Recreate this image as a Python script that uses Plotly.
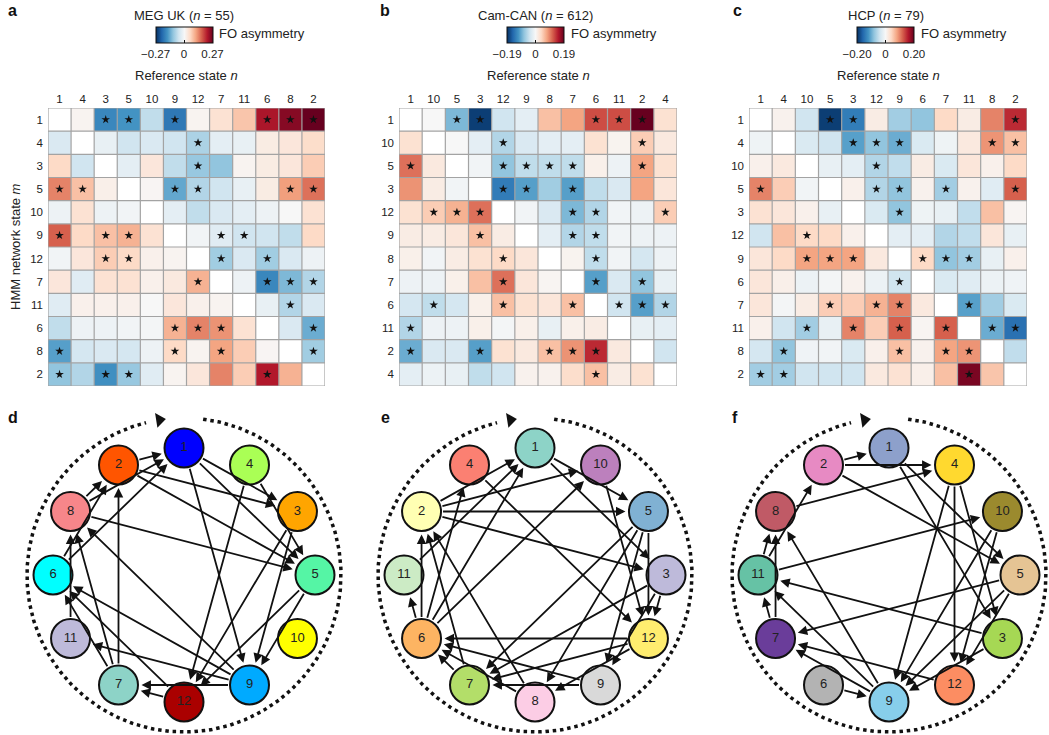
import math
import plotly.graph_objects as go

W, H = 1049, 735
N = None

# ---------------- data ----------------
ORDER_A = [1, 4, 3, 5, 10, 9, 12, 7, 11, 6, 8, 2]
FO_A = [
    [N, 0.008, -0.176, -0.162, -0.068, -0.194, 0.008, 0.041, 0.076, 0.221, 0.248, 0.27],
    [-0.041, N, -0.022, -0.054, -0.041, -0.054, -0.086, -0.027, -0.022, 0.022, 0.032, 0.049],
    [0.054, -0.054, N, -0.027, 0.032, -0.068, -0.103, -0.108, 0.008, 0.022, 0.032, 0.068],
    [0.135, 0.081, 0.016, N, 0.005, -0.14, -0.081, -0.054, -0.022, 0.022, 0.113, 0.149],
    [-0.014, 0.041, -0.014, -0.008, N, -0.027, -0.068, -0.041, -0.027, -0.014, 0.0, 0.041],
    [0.162, 0.054, 0.081, 0.095, 0.041, N, -0.008, -0.032, -0.054, -0.054, -0.068, 0.054],
    [-0.008, 0.032, 0.068, 0.054, 0.014, 0.008, N, -0.095, -0.041, -0.095, -0.041, -0.014],
    [0.032, -0.032, 0.041, 0.041, 0.014, 0.027, 0.095, N, -0.014, -0.176, -0.122, -0.081],
    [-0.032, 0.014, 0.014, 0.014, 0.0, 0.032, 0.014, 0.008, N, -0.022, -0.081, -0.041],
    [-0.068, -0.014, -0.014, -0.008, -0.005, 0.095, 0.135, 0.122, 0.041, N, -0.041, -0.135],
    [-0.149, -0.049, -0.041, -0.049, -0.014, 0.054, 0.008, 0.108, 0.068, 0.005, N, -0.095],
    [-0.108, -0.081, -0.167, -0.103, -0.032, 0.008, 0.032, 0.135, 0.068, 0.216, 0.095, N],
]
STAR_A = [
    [0, 0, 1, 1, 0, 1, 0, 0, 0, 1, 1, 1],
    [0, 0, 0, 0, 0, 0, 1, 0, 0, 0, 0, 0],
    [0, 0, 0, 0, 0, 0, 1, 0, 0, 0, 0, 0],
    [1, 1, 0, 0, 0, 1, 1, 0, 0, 0, 1, 1],
    [0, 0, 0, 0, 0, 0, 0, 0, 0, 0, 0, 0],
    [1, 0, 1, 1, 0, 0, 0, 1, 1, 0, 0, 0],
    [0, 0, 1, 1, 0, 0, 0, 1, 0, 1, 0, 0],
    [0, 0, 0, 0, 0, 0, 1, 0, 0, 1, 1, 1],
    [0, 0, 0, 0, 0, 0, 0, 0, 0, 0, 1, 0],
    [0, 0, 0, 0, 0, 1, 1, 1, 0, 0, 0, 1],
    [1, 0, 0, 0, 0, 1, 0, 1, 0, 0, 0, 1],
    [1, 0, 1, 1, 0, 0, 0, 0, 0, 1, 0, 0],
]
COLORS_A = {1: '#0000ff', 2: '#ff5500', 3: '#ffa500', 4: '#aaff55', 5: '#55f5a5',
            6: '#00ffff', 7: '#8dd3c7', 8: '#f7868a', 9: '#00aaff', 10: '#ffff00',
            11: '#bebada', 12: '#aa0000'}

ORDER_B = [1, 10, 5, 3, 12, 9, 8, 7, 6, 11, 2, 4]
FO_B = [
    [N, 0.0, -0.086, -0.18, -0.038, -0.019, 0.057, 0.076, 0.124, 0.124, 0.19, 0.029],
    [0.029, N, 0.0, -0.019, -0.057, -0.029, -0.019, -0.019, 0.029, 0.006, 0.048, 0.019],
    [0.105, 0.019, N, -0.006, -0.076, -0.048, -0.048, -0.048, 0.01, -0.01, 0.076, 0.029],
    [0.086, 0.015, -0.006, N, -0.133, -0.105, -0.067, -0.105, -0.048, -0.029, 0.076, 0.023],
    [0.029, 0.048, 0.067, 0.105, N, -0.006, -0.029, -0.086, -0.057, -0.006, -0.01, 0.048],
    [0.015, 0.015, 0.023, 0.057, 0.015, N, -0.019, -0.057, -0.048, -0.006, -0.01, -0.01],
    [0.01, -0.006, 0.015, 0.029, 0.038, 0.023, N, 0.006, -0.048, -0.006, -0.034, -0.01],
    [-0.01, -0.01, 0.01, 0.057, 0.105, 0.023, 0.004, N, -0.105, -0.029, -0.076, -0.015],
    [-0.034, -0.048, -0.034, 0.01, 0.057, 0.029, 0.023, 0.057, N, -0.038, -0.105, -0.057],
    [-0.057, -0.01, -0.01, 0.01, -0.004, 0.01, -0.015, 0.01, 0.015, N, -0.015, -0.019],
    [-0.095, -0.029, -0.029, -0.105, 0.029, 0.019, 0.057, 0.086, 0.143, 0.019, N, -0.038],
    [-0.019, -0.011, -0.015, -0.048, -0.038, 0.008, 0.008, 0.034, 0.057, 0.015, 0.029, N],
]
STAR_B = [
    [0, 0, 1, 1, 0, 0, 0, 0, 1, 1, 1, 0],
    [0, 0, 0, 0, 1, 0, 0, 0, 0, 0, 1, 0],
    [1, 0, 0, 0, 1, 1, 1, 1, 0, 0, 1, 0],
    [0, 0, 0, 0, 1, 1, 0, 1, 0, 0, 0, 0],
    [0, 1, 1, 1, 0, 0, 0, 1, 1, 0, 0, 1],
    [0, 0, 0, 1, 0, 0, 0, 1, 1, 0, 0, 0],
    [0, 0, 0, 0, 1, 0, 0, 0, 1, 0, 0, 0],
    [0, 0, 0, 0, 1, 0, 0, 0, 1, 0, 1, 0],
    [0, 1, 0, 0, 1, 0, 0, 1, 0, 1, 1, 1],
    [1, 0, 0, 0, 0, 0, 0, 0, 0, 0, 0, 0],
    [1, 0, 0, 1, 0, 0, 1, 1, 1, 0, 0, 0],
    [0, 0, 0, 0, 0, 0, 0, 0, 1, 0, 0, 0],
]
COLORS_B = {1: '#8dd3c7', 2: '#ffffb3', 3: '#bebada', 4: '#fb8072', 5: '#80b1d3',
            6: '#fdb462', 7: '#b3de69', 8: '#fccde5', 9: '#d9d9d9', 10: '#bc80bd',
            11: '#ccebc5', 12: '#ffed6f'}

ORDER_C = [1, 4, 10, 5, 3, 12, 9, 6, 7, 11, 8, 2]
FO_C = [
    [N, 0.008, -0.04, -0.19, -0.14, 0.016, -0.07, -0.08, 0.04, 0.016, 0.1, 0.15],
    [-0.01, N, -0.03, -0.04, -0.11, -0.08, -0.1, -0.03, -0.01, 0.02, 0.09, 0.06],
    [0.01, 0.02, N, -0.016, -0.02, -0.06, -0.05, 0.016, -0.03, 0.024, 0.01, 0.04],
    [0.1, 0.05, -0.006, N, 0.01, -0.06, -0.08, 0.008, -0.07, 0.008, -0.024, 0.12],
    [0.03, 0.024, 0.01, -0.016, N, -0.03, -0.08, -0.01, -0.016, -0.05, 0.06, 0.004],
    [-0.04, 0.06, 0.04, 0.04, 0.01, N, -0.02, -0.02, -0.06, -0.05, 0.024, -0.016],
    [0.024, 0.04, 0.08, 0.08, 0.08, 0.02, N, 0.04, -0.08, -0.07, -0.016, 0.01],
    [0.024, 0.012, -0.012, -0.004, 0.008, -0.012, -0.04, N, -0.03, -0.024, -0.012, -0.008],
    [0.024, -0.004, 0.016, 0.05, 0.05, 0.07, 0.1, 0.02, N, -0.11, -0.07, -0.03],
    [0.01, -0.04, -0.07, -0.016, 0.1, 0.05, 0.12, 0.004, 0.12, N, -0.1, -0.15],
    [-0.036, -0.08, -0.008, -0.006, -0.03, 0.01, 0.06, 0.008, 0.08, 0.09, N, -0.05],
    [-0.07, -0.07, -0.04, -0.04, -0.04, 0.02, 0.03, 0.012, 0.06, 0.19, 0.056, N],
]
STAR_C = [
    [0, 0, 0, 1, 1, 0, 0, 0, 0, 0, 0, 1],
    [0, 0, 0, 0, 1, 1, 1, 0, 0, 0, 1, 1],
    [0, 0, 0, 0, 0, 1, 0, 0, 0, 0, 0, 0],
    [1, 0, 0, 0, 0, 1, 1, 0, 1, 0, 0, 1],
    [0, 0, 0, 0, 0, 0, 1, 0, 0, 0, 0, 0],
    [0, 0, 1, 0, 0, 0, 0, 0, 0, 0, 0, 0],
    [0, 0, 1, 1, 1, 0, 0, 1, 1, 1, 0, 0],
    [0, 0, 0, 0, 0, 0, 1, 0, 0, 0, 0, 0],
    [0, 0, 0, 1, 0, 1, 1, 0, 0, 1, 0, 0],
    [0, 0, 1, 0, 1, 0, 1, 0, 1, 0, 1, 1],
    [0, 1, 0, 0, 0, 0, 1, 0, 1, 1, 0, 0],
    [1, 1, 0, 0, 0, 0, 0, 0, 0, 1, 0, 0],
]
COLORS_C = {1: '#8da0cb', 2: '#e78ac3', 3: '#a6d854', 4: '#ffd92f', 5: '#e5c494',
            6: '#b3b3b3', 7: '#6a3d9a', 8: '#c05a66', 9: '#87ceeb', 10: '#9b8a2e',
            11: '#66c2a5', 12: '#fc8d62'}

TITLES = ['MEG UK (<i>n</i> = 55)', 'Cam-CAN (<i>n</i> = 612)', 'HCP (<i>n</i> = 79)']
VMAX = [0.27, 0.19, 0.20]
CB_LABELS = [['\u22120.27', '0', '0.27'], ['\u22120.19', '0', '0.19'], ['\u22120.20', '0', '0.20']]

# ---------------- style ----------------
FONT = 'Liberation Sans, Arial, sans-serif'
TXT = '#222222'
RDBU_R = [[0.0, '#053061'], [0.1, '#2166ac'], [0.2, '#4393c3'], [0.3, '#92c5de'],
          [0.4, '#d1e5f0'], [0.5, '#f7f7f7'], [0.6, '#fddbc7'], [0.7, '#f4a582'],
          [0.8, '#d6604d'], [0.9, '#b2182b'], [1.0, '#67001f']]


def fx(px):
    return px / W


def fy(py):
    return 1 - py / H


GY0, GY1 = 108, 386
GRID_X = [(48, 325), (399, 677), (749, 1027)]
LETTERS_TOP = [('a', 12), ('b', 385), ('c', 737)]
LETTERS_BOT = [('d', 13), ('e', 385), ('f', 735)]
NET_CX = [184, 535, 889]
NET_CY = 575
RX, RY = 131, 127
R_DOT = 157

fig = go.Figure()
annotations = []
layout_axes = {}

panels = [(ORDER_A, FO_A, STAR_A, COLORS_A), (ORDER_B, FO_B, STAR_B, COLORS_B),
          (ORDER_C, FO_C, STAR_C, COLORS_C)]

for k, (order, fo, star, colors) in enumerate(panels):
    xa = 'x' if k == 0 else 'x%d' % (k + 1)
    ya = 'y' if k == 0 else 'y%d' % (k + 1)
    gx0, gx1 = GRID_X[k]
    gcx = (gx0 + gx1) / 2
    cbx = gcx - 2.5
    vmax = VMAX[k]
    idx = list(range(12))

    fig.add_trace(go.Heatmap(
        z=fo, x=idx, y=idx, colorscale=RDBU_R, zmin=-vmax, zmax=vmax,
        xaxis=xa, yaxis=ya, hoverinfo='skip',
        colorbar=dict(orientation='h', x=fx(cbx), xanchor='center', y=fy(27), yanchor='top',
                      len=57, lenmode='pixels', thickness=16, thicknessmode='pixels',
                      outlinewidth=1, outlinecolor='#111', tickvals=[-vmax, 0, vmax],
                      ticktext=CB_LABELS[k], ticks='inside', ticklen=3, tickcolor='#111',
                      tickfont=dict(size=11.5, color=TXT, family=FONT), xpad=0, ypad=0)))

    # cell grid
    gxs, gys = [], []
    for b in range(13):
        e = b - 0.5
        gxs += [-0.5, 11.5, None]
        gys += [e, e, None]
        gxs += [e, e, None]
        gys += [-0.5, 11.5, None]
    fig.add_trace(go.Scatter(x=gxs, y=gys, mode='lines', xaxis=xa, yaxis=ya,
                             line=dict(color='#a3a3a3', width=1.2), hoverinfo='skip',
                             showlegend=False, cliponaxis=False))

    # significance stars
    sx, sy = [], []
    for i in range(12):
        for j in range(12):
            if star[i][j]:
                sx.append(j)
                sy.append(i)
    fig.add_trace(go.Scatter(x=sx, y=sy, mode='markers', xaxis=xa, yaxis=ya,
                             marker=dict(symbol='star', size=6.5, color='#111'),
                             hoverinfo='skip', showlegend=False))

    axkey = 'xaxis' if k == 0 else 'xaxis%d' % (k + 1)
    aykey = 'yaxis' if k == 0 else 'yaxis%d' % (k + 1)
    layout_axes[axkey] = dict(domain=[fx(gx0), fx(gx1)], range=[-0.5, 11.5], side='top',
                              tickvals=idx, ticktext=[str(s) for s in order], ticks='',
                              showgrid=False, zeroline=False, showline=False,
                              tickfont=dict(size=11.5, color=TXT, family=FONT),
                              ticklabelstandoff=2, anchor=ya, fixedrange=True)
    layout_axes[aykey] = dict(domain=[fy(GY1), fy(GY0)], range=[11.5, -0.5],
                              tickvals=idx, ticktext=[str(s) for s in order], ticks='',
                              showgrid=False, zeroline=False, showline=False,
                              tickfont=dict(size=11.5, color=TXT, family=FONT),
                              ticklabelstandoff=4, anchor=xa, fixedrange=True)

    annotations.append(dict(x=fx(cbx), y=fy(15), xref='paper', yref='paper', text=TITLES[k],
                            showarrow=False, xanchor='center', yanchor='middle',
                            font=dict(size=13, color=TXT, family=FONT)))
    annotations.append(dict(x=fx(cbx + 33), y=fy(34), xref='paper', yref='paper',
                            text='FO asymmetry', showarrow=False, xanchor='left', yanchor='middle',
                            font=dict(size=13, color=TXT, family=FONT)))
    annotations.append(dict(x=fx(gcx), y=fy(76), xref='paper', yref='paper',
                            text='Reference state <i>n</i>', showarrow=False, xanchor='center',
                            yanchor='middle', font=dict(size=13, color=TXT, family=FONT)))
    lt, lx = LETTERS_TOP[k]
    annotations.append(dict(x=fx(lx), y=fy(11), xref='paper', yref='paper', text='<b>%s</b>' % lt,
                            showarrow=False, xanchor='center', yanchor='middle',
                            font=dict(size=16, color='#111', family=FONT)))
    lb, lbx = LETTERS_BOT[k]
    annotations.append(dict(x=fx(lbx), y=fy(417), xref='paper', yref='paper', text='<b>%s</b>' % lb,
                            showarrow=False, xanchor='center', yanchor='middle',
                            font=dict(size=16, color='#111', family=FONT)))

annotations.append(dict(x=fx(15), y=fy((GY0 + GY1) / 2), xref='paper', yref='paper',
                        text='HMM network state <i>m</i>', textangle=-90, showarrow=False,
                        xanchor='center', yanchor='middle',
                        font=dict(size=13, color=TXT, family=FONT)))

# ---------------- networks ----------------
NET_TOP = 400
layout_axes['xaxis4'] = dict(domain=[0, 1], range=[0, W], visible=False, anchor='y4',
                             fixedrange=True)
layout_axes['yaxis4'] = dict(domain=[0, fy(NET_TOP)], range=[H, NET_TOP], visible=False,
                             anchor='x4', fixedrange=True)

for k, (order, fo, star, colors) in enumerate(panels):
    cx = NET_CX[k]
    pos = {}
    for i, s in enumerate(order):
        th = math.radians(90 - 30 * i)
        pos[s] = (cx + RX * math.cos(th), NET_CY - RY * math.sin(th))

    # dotted clockwise circle with arrow head
    th_start, th_end = 83, 104 - 360
    nseg = 300
    dx, dy = [], []
    for t in range(nseg + 1):
        th = math.radians(th_start + (th_end - th_start) * t / nseg)
        dx.append(cx + R_DOT * math.cos(th))
        dy.append(NET_CY - R_DOT * math.sin(th))
    fig.add_trace(go.Scatter(x=dx, y=dy, mode='lines', xaxis='x4', yaxis='y4',
                             line=dict(color='#111', width=3.5, dash='3.5px,3.8px'),
                             hoverinfo='skip', showlegend=False, cliponaxis=False))
    th_tip = math.radians(99)
    fig.add_trace(go.Scatter(x=[cx + R_DOT * math.cos(th_tip)], y=[NET_CY - R_DOT * math.sin(th_tip)],
                             mode='markers', xaxis='x4', yaxis='y4',
                             marker=dict(symbol='triangle-right', size=13, color='#111', angle=-9),
                             hoverinfo='skip', showlegend=False, cliponaxis=False))

    # edges from significant asymmetries
    seen = []
    for i, m in enumerate(order):
        for j, n in enumerate(order):
            if star[i][j] and fo[i][j] is not None:
                e = (m, n) if fo[i][j] < 0 else (n, m)
                if e not in seen:
                    seen.append(e)
    for (src, dst) in seen:
        annotations.append(dict(x=pos[dst][0], y=pos[dst][1], ax=pos[src][0], ay=pos[src][1],
                                xref='x4', yref='y4', axref='x4', ayref='y4', text='',
                                showarrow=True, arrowhead=2, arrowsize=1.05, arrowwidth=1.8,
                                arrowcolor='#111', standoff=23, startstandoff=20))

    fig.add_trace(go.Scatter(
        x=[pos[s][0] for s in order], y=[pos[s][1] for s in order], mode='markers+text',
        xaxis='x4', yaxis='y4', text=[str(s) for s in order], textposition='middle center',
        textfont=dict(size=13, color='#222', family=FONT),
        marker=dict(size=39, color=[colors[s] for s in order], line=dict(color='#111', width=2)),
        hoverinfo='skip', showlegend=False, cliponaxis=False))

fig.update_layout(width=W, height=H, margin=dict(l=0, r=0, t=0, b=0),
                  paper_bgcolor='white', plot_bgcolor='white', showlegend=False,
                  hovermode=False, font=dict(family=FONT, color=TXT),
                  annotations=annotations, **layout_axes)

fig.write_html('out.html', config={'displayModeBar': False, 'staticPlot': True},
               post_script="document.body.style.margin='0';")
